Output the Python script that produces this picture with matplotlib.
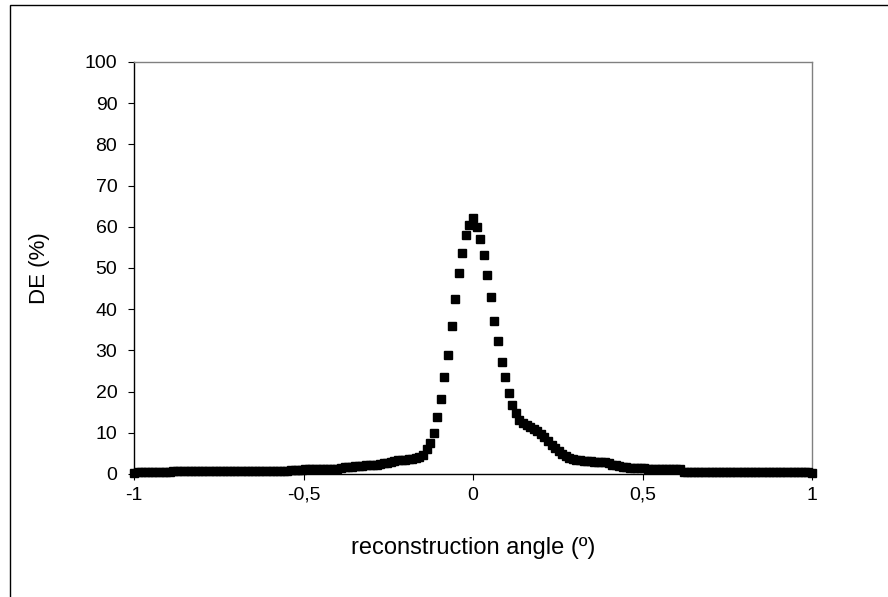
import matplotlib
matplotlib.use("Agg")
import matplotlib.pyplot as plt
import numpy as np
from matplotlib.patches import Rectangle

plt.rcParams['font.family'] = ['Liberation Sans', 'DejaVu Sans']

# sampling grid: 191 points from -1 to 1
angle = np.linspace(-1, 1, 191)

# diffraction efficiency (%) read point by point, left tail -> peak -> right tail
de_left = [
    0.3, 0.4, 0.4, 0.4, 0.4, 0.4, 0.4, 0.4, 0.4, 0.4, 0.4,
    0.8, 0.8, 0.8, 0.8, 0.8, 0.8, 0.8, 0.8, 0.8, 0.8, 0.8,
    0.8, 0.8, 0.8, 0.8, 0.8, 0.8, 0.8, 0.8, 0.8, 0.8, 0.8,
    0.8, 0.8, 0.8, 0.8, 0.8, 0.8, 0.8, 0.8, 0.8, 0.8, 0.8,
    0.9,
    1.0, 1.0, 1.0, 1.1, 1.1, 1.1, 1.1, 1.1, 1.1, 1.2, 1.2, 1.2,
    1.3,
    1.5, 1.6, 1.6, 1.7, 1.9, 1.9, 2.0, 2.1, 2.2, 2.2, 2.3, 2.5,
    2.6, 2.7, 2.8, 3.2, 3.3, 3.4, 3.5, 3.6, 3.7, 3.9, 4.2, 4.6,
    6.1, 7.5, 10.0, 13.8, 18.2, 23.5, 29.0, 36.0, 42.5, 48.7,
    53.7, 58.0, 60.4,
]
de_peak = [62.1]
de_right = [
    60.0, 57.0, 53.2, 48.3, 43.0, 37.1, 32.2, 27.3, 23.5, 19.7,
    16.7, 14.8, 13.0, 12.3, 11.9, 11.4, 11.0, 10.4, 9.8, 9.0,
    8.0, 7.0, 6.2, 5.5, 4.9, 4.4, 4.0, 3.7, 3.5, 3.3,
    3.2, 3.1, 3.1, 3.0, 3.0, 2.9, 2.8, 2.7, 2.3, 2.1,
    2.0,
    1.6, 1.6, 1.5, 1.5, 1.5, 1.4, 1.4,
    1.1, 1.1, 1.1, 1.1, 1.1, 1.1, 1.1, 1.1, 1.1, 1.1,
    0.6, 0.6, 0.6, 0.6, 0.6, 0.6, 0.6, 0.6, 0.6, 0.6, 0.6, 0.6,
    0.6, 0.6, 0.6, 0.6, 0.6, 0.6, 0.6, 0.6, 0.6, 0.6, 0.6, 0.6,
    0.6, 0.6, 0.6, 0.5, 0.5, 0.5, 0.5, 0.5, 0.5, 0.5, 0.5, 0.5,
    0.3,
]
de = np.array(de_left + de_peak + de_right)

x_ticks = [-1, -0.5, 0, 0.5, 1]
x_tick_labels = ['-1', '-0,5', '0', '0,5', '1']
y_ticks = list(range(0, 101, 10))


def plot_de(angle, de):
    fig = plt.figure(figsize=(8.88, 5.97), dpi=100)
    ax = fig.add_axes([134 / 888, 1 - 474 / 597, 678 / 888, 412 / 597])

    ax.plot(angle, de, linestyle='none', marker='s', markersize=5.2,
            color='black', clip_on=False, zorder=3)

    ax.set_xlim(-1, 1)
    ax.set_ylim(0, 100)
    ax.set_xticks(x_ticks)
    ax.set_xticklabels(x_tick_labels)
    ax.set_yticks(y_ticks)
    ax.tick_params(axis='both', direction='out', length=4, width=0.8,
                   labelsize=14, color='black')
    ax.tick_params(axis='y', pad=8)
    ax.tick_params(axis='x', pad=5)

    for side in ('left', 'bottom'):
        ax.spines[side].set_color('black')
        ax.spines[side].set_linewidth(1.0)
    for side in ('top', 'right'):
        ax.spines[side].set_color('#808080')
        ax.spines[side].set_linewidth(1.0)

    ax.set_xlabel('reconstruction angle (º)', fontsize=17, va='center')
    ax.xaxis.set_label_coords(0.5, (474 - 548) / 412)
    ax.set_ylabel('DE (%)', fontsize=16, va='center')
    ax.yaxis.set_label_coords((40 - 134) / 678, 0.5)

    # outer chart-area border (only top and left edges fall inside the image)
    fig.add_artist(Rectangle((10 / 888, -0.1), 1.2, 1.1 - 5 / 597,
                             transform=fig.transFigure, fill=False,
                             edgecolor='black', linewidth=1.0))

    fig.savefig('out.png', dpi=100)


def main():
    plot_de(angle, de)


if __name__ == "__main__":
    main()
